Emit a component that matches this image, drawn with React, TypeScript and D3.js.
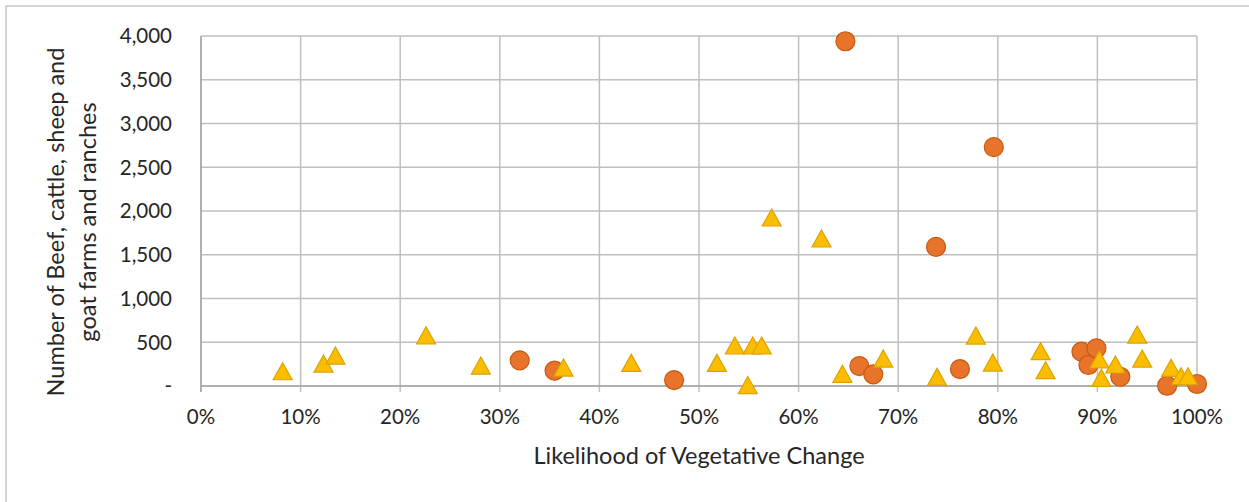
import React from "react";
import * as d3 from "d3";

const circleX = [32.0, 35.5, 47.5, 64.7, 66.1, 67.5, 73.8, 76.2, 79.6, 88.4, 89.1, 89.9, 92.3, 97.0, 100.0];
const circleY = [293, 175, 68, 3940, 228, 134, 1590, 194, 2730, 392, 240, 430, 106, 3, 23];

const triX = [8.2, 12.3, 13.5, 22.6, 28.1, 36.4, 43.2, 51.8, 53.6, 55.4, 56.3, 54.9, 57.3, 62.3, 64.4, 68.5, 73.9, 77.8, 79.5, 84.3, 84.8, 90.2, 90.4, 91.8, 94.0, 94.5, 97.4, 98.4, 99.1];
const triY = [163, 251, 342, 574, 228, 205, 259, 259, 457, 457, 457, 5, 1920, 1680, 134, 308, 99, 571, 262, 392, 175, 297, 88, 240, 582, 308, 202, 106, 106];

const xTicks = [0, 10, 20, 30, 40, 50, 60, 70, 80, 90, 100];
const yTicks = [0, 500, 1000, 1500, 2000, 2500, 3000, 3500, 4000];

const xTitle = "Likelihood of Vegetative Change";
const yTitle1 = "Number of Beef, cattle, sheep and";
const yTitle2 = "goat farms and ranches";

const W = 1249, H = 502;
const L = 201, R = 1197, T = 36, B = 386;
const FONT = "Lato, 'Open Sans', sans-serif";
const TXT = "#262626";

export default function App() {
  const x = d3.scaleLinear().domain([0, 100]).range([L, R]);
  const y = d3.scaleLinear().domain([0, 4000]).range([B, T]);
  const fmtY = (v: number) => (v === 0 ? "-" : d3.format(",")(v));
  const tri = (cx: number, cy: number) => {
    const p = d3.path();
    p.moveTo(cx, cy - 9);
    p.lineTo(cx + 9.5, cy + 8);
    p.lineTo(cx - 9.5, cy + 8);
    p.closePath();
    return p.toString();
  };
  return (
    <svg width={W} height={H} style={{ position: "absolute", left: 0, top: 0, background: "#fff" }} fontFamily={FONT}>
      <rect x={6} y={6} width={W + 20} height={H + 20} fill="#fff" stroke="#c8c8c8" strokeWidth={1.5} />
      {yTicks.map((v) => (
        <line key={"gy" + v} x1={L} x2={R} y1={y(v)} y2={y(v)} stroke="#bfbfbf" strokeWidth={1.5} />
      ))}
      {xTicks.map((v) => (
        <line key={"gx" + v} x1={x(v)} x2={x(v)} y1={T} y2={B + 6} stroke="#bfbfbf" strokeWidth={1.5} />
      ))}
      <line x1={L} x2={R} y1={B} y2={B} stroke="#a6a6a6" strokeWidth={1.5} />
      <line x1={L} x2={L} y1={T} y2={B + 6} stroke="#a6a6a6" strokeWidth={1.5} />
      {yTicks.map((v) => (
        <text key={"ty" + v} x={172} y={y(v)} dy="0.36em" textAnchor="end" fontSize={20.5} fill={TXT}>
          {fmtY(v)}
        </text>
      ))}
      {xTicks.map((v) => (
        <text key={"tx" + v} x={x(v)} y={424} textAnchor="middle" fontSize={20.5} fill={TXT}>
          {v + "%"}
        </text>
      ))}
      <text x={(L + R) / 2} y={464} textAnchor="middle" fontSize={23.5} fill={TXT}>
        {xTitle}
      </text>
      <g transform={`translate(0,222) rotate(-90)`}>
        <text x={0} y={64} textAnchor="middle" fontSize={23.5} fill={TXT}>{yTitle1}</text>
        <text x={0} y={96} textAnchor="middle" fontSize={23.5} fill={TXT}>{yTitle2}</text>
      </g>
      {circleX.map((v, i) => (
        <circle key={"c" + i} cx={x(v)} cy={y(circleY[i])} r={9.5} fill="#e8732a" stroke="#c55a11" strokeWidth={1.2} />
      ))}
      {triX.map((v, i) => (
        <path key={"t" + i} d={tri(x(v), y(triY[i]))} fill="#fcbd00" stroke="#dba300" strokeWidth={1.2} />
      ))}
    </svg>
  );
}
